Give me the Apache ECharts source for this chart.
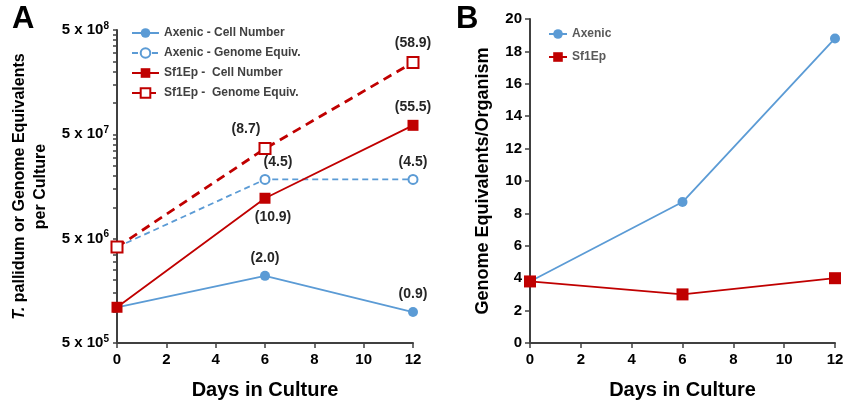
<!DOCTYPE html>
<html>
<head>
<meta charset="utf-8">
<script src="https://cdn.jsdelivr.net/npm/echarts@6/dist/echarts.min.js"></script>
<style>
html,body{margin:0;padding:0;background:#fff;}
#c{width:845px;height:403px;}
</style>
</head>
<body>
<div id="c"></div>
<script>
// ---- Data ----
var days = [0, 6, 12];
// Panel A (per culture, log scale)
var axenicCell = [1.1e6, 2.2e6, 0.99e6];
var axenicGenome = [4.15e6, 1.85e7, 1.85e7];
var sf1epCell = [1.1e6, 1.22e7, 6.1e7];
var sf1epGenome = [4.15e6, 3.65e7, 2.44e8];
var axenicCellLabels = ['', '(2.0)', '(0.9)'];
var axenicGenomeLabels = ['', '(4.5)', '(4.5)'];
var sf1epCellLabels = ['', '(10.9)', '(55.5)'];
var sf1epGenomeLabels = ['', '(8.7)', '(58.9)'];
var seriesNamesA = ['Axenic - Cell Number', 'Axenic - Genome Equiv.', 'Sf1Ep -  Cell Number', 'Sf1Ep -  Genome Equiv.'];
var yTicksA = [5e5, 5e6, 5e7, 5e8];
// Panel B (genome equivalents per organism)
var axenicGE = [3.8, 8.7, 18.8];
var sf1epGE = [3.8, 3.0, 4.0];
var seriesNamesB = ['Axenic', 'Sf1Ep'];

var BLUE = '#5B9BD5', RED = '#C00000';
var FONT = 'Liberation Sans, Arial, sans-serif';

// minor tick positions on the log axis (5x10^n * m)
var minorTicks = [];
for (var n = 0; n < yTicksA.length - 1; n++) {
  for (var m = 1; m <= 10; m++) minorTicks.push(yTicksA[n] * m);
}

// label offsets (styling)
var labelPos = {
  axenicCell: [null, {position: 'top', offset: [0, 0]}, {position: 'top', offset: [0, 0]}],
  axenicGenome: [null, {position: 'top', offset: [13, 1]}, {position: 'top', offset: [0, 1]}],
  sf1epCell: [null, {position: 'bottom', offset: [8, 0]}, {position: 'top', offset: [0, 0]}],
  sf1epGenome: [null, {position: 'top', offset: [-19, 0]}, {position: 'top', offset: [0, 0]}]
};
function buildData(vals, labels, pos) {
  return days.map(function (d, i) {
    var item = {value: [d, vals[i]]};
    if (labels[i]) {
      item.label = {show: true, formatter: labels[i], position: pos[i].position, offset: pos[i].offset};
    } else {
      item.label = {show: false};
    }
    return item;
  });
}
var labelStyle = {fontFamily: FONT, fontWeight: 'bold', fontSize: 14, color: '#262626', distance: 6};

var axisLineStyle = {color: '#404040', width: 2};
var tickLabelStyle = {fontFamily: FONT, fontWeight: 'bold', fontSize: 15, color: '#000'};

var chart = echarts.init(document.getElementById('c'), null, {renderer: 'canvas'});
chart.setOption({
  animation: false,
  backgroundColor: '#fff',
  textStyle: {fontFamily: FONT},
  graphic: [
    {type: 'text', left: 12, top: 4, style: {text: 'A', font: 'bold 31px ' + FONT, fill: '#000'}},
    {type: 'text', left: 456, top: 4, style: {text: 'B', font: 'bold 31px ' + FONT, fill: '#000'}}
  ],
  grid: [
    {left: 117, top: 30, width: 296, height: 313, outerBoundsMode: 'none'},
    {left: 530, top: 19, width: 305, height: 324, outerBoundsMode: 'none'}
  ],
  legend: [
    {
      data: seriesNamesA, orient: 'vertical', left: 126, top: 22, itemGap: 8,
      itemWidth: 27, itemHeight: 12,
      textStyle: {fontFamily: FONT, fontWeight: 'bold', fontSize: 12, color: '#404040'}
    },
    {
      data: seriesNamesB, orient: 'vertical', left: 543, top: 23, itemGap: 11,
      itemWidth: 18, itemHeight: 12,
      textStyle: {fontFamily: FONT, fontWeight: 'bold', fontSize: 12, color: '#595959'}
    }
  ],
  xAxis: [
    {
      gridIndex: 0, type: 'value', min: 0, max: 12, interval: 2,
      name: 'Days in Culture', nameLocation: 'middle', nameGap: 37,
      nameTextStyle: {fontFamily: FONT, fontWeight: 'bold', fontSize: 20, color: '#000'},
      axisLine: {lineStyle: axisLineStyle}, axisTick: {length: 5, lineStyle: {color: '#404040', width: 1.5}},
      axisLabel: Object.assign({margin: 9}, tickLabelStyle), splitLine: {show: false}
    },
    {
      gridIndex: 1, type: 'value', min: 0, max: 12, interval: 2,
      name: 'Days in Culture', nameLocation: 'middle', nameGap: 37,
      nameTextStyle: {fontFamily: FONT, fontWeight: 'bold', fontSize: 20, color: '#000'},
      axisLine: {lineStyle: axisLineStyle}, axisTick: {length: 5, lineStyle: {color: '#404040', width: 1.5}},
      axisLabel: Object.assign({margin: 9}, tickLabelStyle), splitLine: {show: false}
    }
  ],
  yAxis: [
    {
      gridIndex: 0, type: 'log', logBase: 10, min: 5e5, max: 5e8,
      name: '{i|T.} pallidum or Genome Equivalents\nper Culture',
      nameLocation: 'middle', nameRotate: 90, nameGap: 66,
      nameTextStyle: {
        fontFamily: FONT, fontWeight: 'bold', fontSize: 16, color: '#000', lineHeight: 21, align: 'center',
        rich: {i: {fontFamily: FONT, fontWeight: 'bold', fontStyle: 'italic', fontSize: 16, color: '#000', lineHeight: 21}}
      },
      axisLine: {show: true, lineStyle: axisLineStyle},
      axisTick: {show: true, length: 4, customValues: minorTicks, lineStyle: {color: '#404040', width: 1.5}},
      axisLabel: {
        customValues: yTicksA, margin: 8,
        formatter: function (v) {
          var e = Math.round(Math.log10(v / 5));
          return '{b|5 x 10}{s|' + e + '}';
        },
        rich: {
          b: {fontFamily: FONT, fontWeight: 'bold', fontSize: 15, color: '#000', lineHeight: 18},
          s: {fontFamily: FONT, fontWeight: 'bold', fontSize: 10, color: '#000', verticalAlign: 'top', lineHeight: 18, padding: [0, 0, 7, 0]}
        }
      },
      splitLine: {show: false}
    },
    {
      gridIndex: 1, type: 'value', min: 0, max: 20, interval: 2,
      name: 'Genome Equivalents/Organism', nameLocation: 'middle', nameGap: 38,
      nameTextStyle: {fontFamily: FONT, fontWeight: 'bold', fontSize: 18, color: '#000'},
      axisLine: {show: true, lineStyle: axisLineStyle},
      axisTick: {show: true, length: 5, lineStyle: {color: '#404040', width: 1.5}},
      axisLabel: Object.assign({margin: 8}, tickLabelStyle),
      splitLine: {show: false}
    }
  ],
  series: [
    {
      name: seriesNamesA[0], type: 'line', xAxisIndex: 0, yAxisIndex: 0,
      data: buildData(axenicCell, axenicCellLabels, labelPos.axenicCell),
      symbol: 'circle', symbolSize: 10, color: BLUE,
      lineStyle: {color: BLUE, width: 1.8}, itemStyle: {color: BLUE},
      label: labelStyle, z: 2
    },
    {
      name: seriesNamesA[1], type: 'line', xAxisIndex: 0, yAxisIndex: 0,
      data: buildData(axenicGenome, axenicGenomeLabels, labelPos.axenicGenome),
      symbol: 'emptyCircle', symbolSize: 9, color: BLUE,
      lineStyle: {color: BLUE, width: 1.8, type: [6, 4]},
      itemStyle: {color: BLUE, borderWidth: 2},
      label: labelStyle, z: 2
    },
    {
      name: seriesNamesA[2], type: 'line', xAxisIndex: 0, yAxisIndex: 0,
      data: buildData(sf1epCell, sf1epCellLabels, labelPos.sf1epCell),
      symbol: 'rect', symbolSize: 11, color: RED,
      lineStyle: {color: RED, width: 1.8}, itemStyle: {color: RED},
      label: labelStyle, z: 3
    },
    {
      name: seriesNamesA[3], type: 'line', xAxisIndex: 0, yAxisIndex: 0,
      data: buildData(sf1epGenome, sf1epGenomeLabels, labelPos.sf1epGenome),
      symbol: 'emptyRect', symbolSize: 11, color: RED,
      lineStyle: {color: RED, width: 2.8, type: [9, 6]},
      itemStyle: {color: RED, borderWidth: 2},
      label: labelStyle, z: 3
    },
    {
      name: seriesNamesB[0], type: 'line', xAxisIndex: 1, yAxisIndex: 1,
      data: days.map(function (d, i) { return [d, axenicGE[i]]; }),
      symbol: 'circle', symbolSize: 10, color: BLUE,
      lineStyle: {color: BLUE, width: 1.8}, itemStyle: {color: BLUE}, z: 2
    },
    {
      name: seriesNamesB[1], type: 'line', xAxisIndex: 1, yAxisIndex: 1,
      data: days.map(function (d, i) { return [d, sf1epGE[i]]; }),
      symbol: 'rect', symbolSize: 12, color: RED,
      lineStyle: {color: RED, width: 1.8}, itemStyle: {color: RED}, z: 3
    }
  ]
});
</script>
</body>
</html>
